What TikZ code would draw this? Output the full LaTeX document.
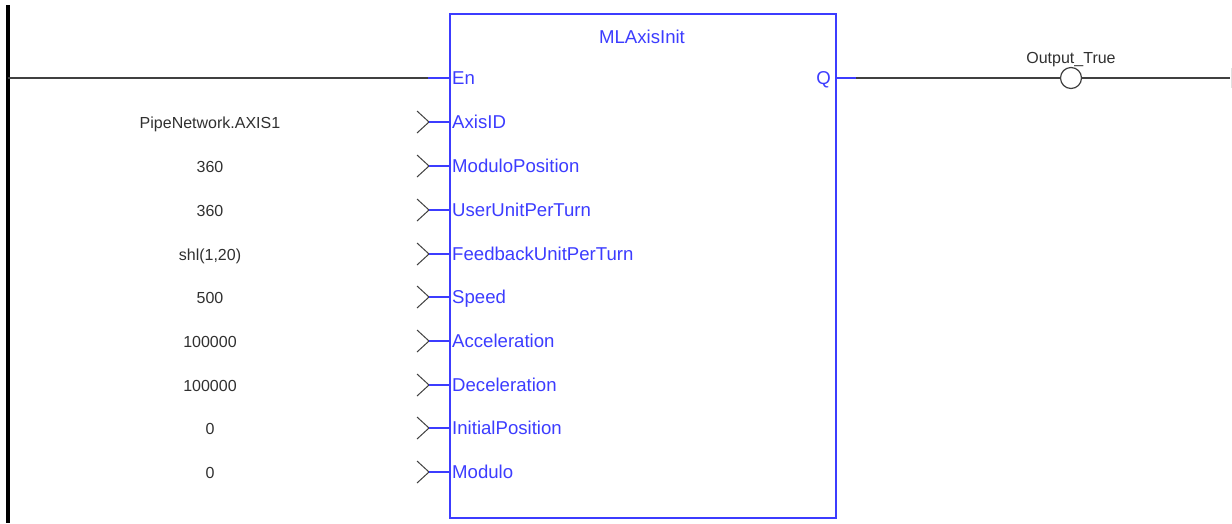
\documentclass[tikz,border=0pt]{standalone}
\usepackage{fontspec}
\setmainfont{Liberation Sans}
\definecolor{fbblue}{HTML}{3C3CFF}
\definecolor{wire}{HTML}{404040}
\definecolor{lbl}{HTML}{303030}
\begin{document}
\begin{tikzpicture}[x=1pt,y=-1pt,
  bluewire/.style={draw=fbblue,line width=1.5pt},
  blackwire/.style={draw=wire,line width=1.5pt},
  chev/.style={draw=wire,line width=1pt},
  pinlbl/.style={anchor=base west,inner sep=0pt,text=fbblue,font=\fontsize{18.6}{20}\selectfont},
  vallbl/.style={anchor=base,inner sep=0pt,text=lbl,font=\fontsize{16}{18}\selectfont},
  fblock/.style={draw=fbblue,line width=1.5pt,minimum width=386pt,minimum height=504pt,anchor=north west,inner sep=0pt},
  coilst/.style={circle,draw=wire,line width=1.2pt,minimum size=21pt,inner sep=0pt,fill=white}]
\useasboundingbox (0,0) rectangle (1232,523);
% left rail
\coordinate (railtop) at (7.5,5);
\coordinate (railbot) at (7.5,523);
\draw[line width=4pt,black] (railtop) -- (railbot);
% right rail mark
\coordinate (rrtop) at (1231.5,68);
\coordinate (rrbot) at (1231.5,88);
\draw[line width=1pt,black!12] (rrtop) -- (rrbot);
% block
\node[fblock] (blk) at (449,13) {};
\node[anchor=base,inner sep=0pt,text=fbblue,font=\fontsize{18.6}{20}\selectfont] (title) at (642,43.5) {MLAxisInit};
% En
\coordinate (enl) at (7.5,78);
\coordinate (enm) at (428,78);
\coordinate (en) at (449,78);
\draw[blackwire] (enl) -- (enm);
\draw[bluewire] (enm) -- (en);
\node[pinlbl] (enlbl) at (452,84.5) {En};
% Q
\coordinate (q) at (835,78);
\coordinate (qm) at (856,78);
\coordinate (rend) at (1230,78);
\node[anchor=base east,inner sep=0pt,text=fbblue,font=\fontsize{18.6}{20}\selectfont] (qlbl) at (831,84.5) {Q};
\node[coilst] (coil) at (1071,78) {};
\draw[bluewire] (q) -- (qm);
\draw[blackwire] (qm) -- (coil.west);
\draw[blackwire] (coil.east) -- (rend);
\node[anchor=base,inner sep=0pt,text=lbl,font=\fontsize{16}{18}\selectfont] (coillbl) at (1071,63) {Output\_True};
% inputs
\foreach \i/\y/\val/\pin in {1/122/PipeNetwork.AXIS1/AxisID,
  2/166/360/ModuloPosition,
  3/210/360/UserUnitPerTurn,
  4/254/{shl(1,20)}/FeedbackUnitPerTurn,
  5/297/500/Speed,
  6/341/100000/Acceleration,
  7/385/100000/Deceleration,
  8/428/0/InitialPosition,
  9/472/0/Modulo}{
  \coordinate (c\i) at (429,\y);
  \coordinate (p\i) at (449,\y);
  \draw[chev] ([shift={(-12,-11)}]c\i) -- (c\i) -- ([shift={(-12,11)}]c\i);
  \draw[bluewire] (c\i) -- (p\i);
  \node[pinlbl] (pl\i) at (452,\y+6.5) {\pin};
  \node[vallbl] (v\i) at (210,\y+6) {\val};
}
\end{tikzpicture}
\end{document}
